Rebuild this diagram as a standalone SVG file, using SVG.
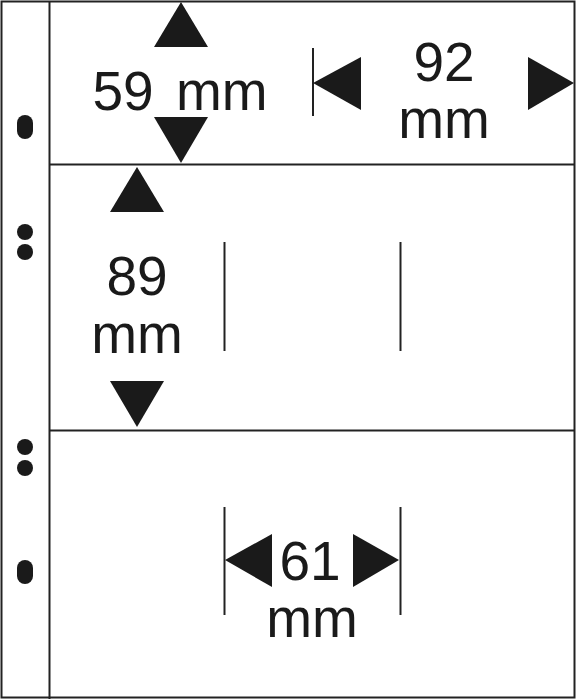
<svg xmlns="http://www.w3.org/2000/svg" width="576" height="700" viewBox="0 0 576 700">
<style>
.ln{stroke:#222;stroke-width:2;fill:none}
.tri{fill:#1a1a1a}
.hole{fill:#1a1a1a}
.lbl{font-family:"Liberation Sans",Arial,sans-serif;font-size:55px;fill:#1a1a1a;text-anchor:middle}
</style>
<rect width="576" height="700" fill="#fff"/>
<g id="sheet">
<rect class="ln" x="1.5" y="1.5" width="573" height="696" stroke-width="3"/>
<line class="ln" x1="49.5" y1="1" x2="49.5" y2="699"/>
<line class="ln" x1="49" y1="164.5" x2="575" y2="164.5"/>
<line class="ln" x1="49" y1="430.5" x2="575" y2="430.5"/>
</g>
<g id="holes">
<rect class="hole" x="17" y="115" width="16" height="24" rx="8"/>
<circle class="hole" cx="25" cy="232" r="8"/>
<circle class="hole" cx="25" cy="252" r="8"/>
<circle class="hole" cx="25" cy="447" r="8"/>
<circle class="hole" cx="25" cy="468" r="8"/>
<rect class="hole" x="17" y="560" width="16" height="24" rx="8"/>
</g>
<g id="dim-59">
<polygon class="tri" points="181,2 208,47 154,47"/>
<polygon class="tri" points="154,117 208,117 181,163"/>
<text class="lbl" x="180" y="110" word-spacing="7">59 mm</text>
</g>
<g id="dim-92">
<line class="ln" x1="313" y1="48" x2="313" y2="116"/>
<polygon class="tri" points="313,83 361,57 361,110"/>
<polygon class="tri" points="528,57 574,83 528,110"/>
<text class="lbl" x="444" y="81">92</text>
<text class="lbl" x="444" y="138">mm</text>
</g>
<g id="dim-89">
<polygon class="tri" points="137,167 164,212 110,212"/>
<polygon class="tri" points="110,381 164,381 137,427"/>
<text class="lbl" x="137" y="295">89</text>
<text class="lbl" x="137" y="353">mm</text>
</g>
<g id="guides">
<line class="ln" x1="224.5" y1="242" x2="224.5" y2="351"/>
<line class="ln" x1="400.5" y1="242" x2="400.5" y2="351"/>
</g>
<g id="dim-61">
<line class="ln" x1="224.5" y1="507" x2="224.5" y2="615"/>
<line class="ln" x1="400.5" y1="507" x2="400.5" y2="615"/>
<polygon class="tri" points="225,560 272,534 272,587"/>
<polygon class="tri" points="353,534 399,560 353,587"/>
<text class="lbl" x="310" y="580">61</text>
<text class="lbl" x="312" y="637">mm</text>
</g>
</svg>
